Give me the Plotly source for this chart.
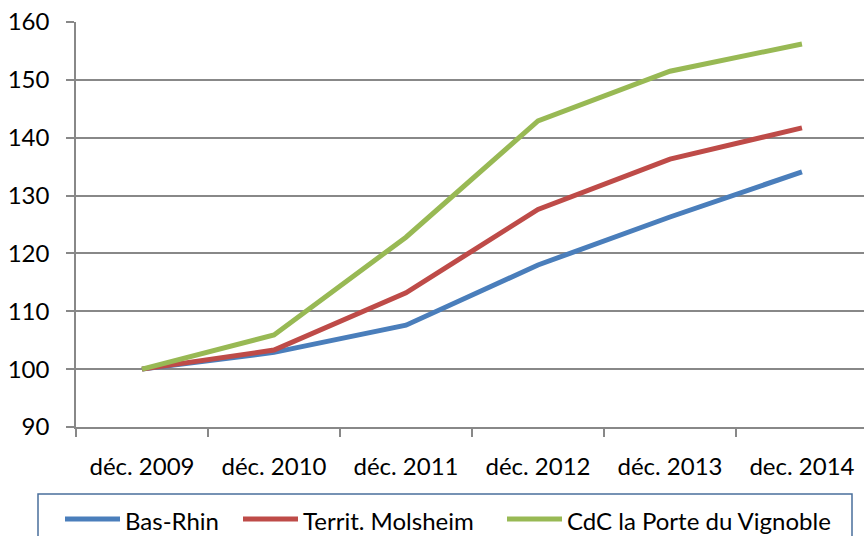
import plotly.graph_objects as go

categories = ["déc. 2009", "déc. 2010", "déc. 2011", "déc. 2012", "déc. 2013", "dec. 2014"]
bas_rhin = [100, 102.9, 107.6, 118.0, 126.3, 134.1]
territ_molsheim = [100, 103.3, 113.2, 127.6, 136.3, 141.7]
cdc_porte_vignoble = [100, 105.9, 122.8, 142.9, 151.5, 156.2]

series = [
    ("Bas-Rhin", bas_rhin, "#4a7ebb"),
    ("Territ. Molsheim", territ_molsheim, "#be4b48"),
    ("CdC la Porte du Vignoble", cdc_porte_vignoble, "#98b954"),
]

FONT = "Lato"
FS = 24
W, H = 864, 536
L, T, B = 76, 22, 109
pw = W - L
ph = H - T - B

def px_x(p):
    return (p - L) / pw

def px_y(p):
    return (H - B - p) / ph

fig = go.Figure()
for name, vals, col in series:
    fig.add_trace(go.Scatter(x=categories, y=vals, name=name, mode="lines",
                             line=dict(color=col, width=5), showlegend=False))

# manual legend (long line samples like the reference)
legend_starts = [65, 243, 507]
shapes = [dict(type="rect", xref="paper", yref="paper",
               x0=px_x(38), x1=px_x(852), y0=px_y(494), y1=px_y(560),
               line=dict(color="#4a6f9c", width=1.5), fillcolor="rgba(0,0,0,0)", layer="below")]
annotations = []
for (name, vals, col), xs in zip(series, legend_starts):
    shapes.append(dict(type="line", xref="paper", yref="paper",
                       x0=px_x(xs), x1=px_x(xs + 55), y0=px_y(519), y1=px_y(519),
                       line=dict(color=col, width=5)))
    annotations.append(dict(text=name, xref="paper", yref="paper", x=px_x(xs + 58), y=px_y(520),
                            xanchor="left", yanchor="middle", showarrow=False,
                            font=dict(family=FONT, size=FS, color="#000")))

fig.update_layout(
    width=W, height=H,
    margin=dict(l=L, r=0, t=T, b=B, autoexpand=False),
    paper_bgcolor="white", plot_bgcolor="white",
    font=dict(family=FONT, size=FS, color="#000"),
    showlegend=False,
    xaxis=dict(type="category", range=[-0.5, 5.47], showgrid=False,
               showline=True, linecolor="#888", linewidth=1.5,
               ticks="outside", tickson="boundaries", ticklen=8, tickcolor="#888", tickwidth=1.5,
               tickfont=dict(family=FONT, size=FS), ticklabelstandoff=17, fixedrange=True),
    yaxis=dict(range=[90, 160], dtick=10, showgrid=True, gridcolor="#888", gridwidth=1.5,
               showline=True, linecolor="#888", linewidth=1.5, zeroline=False,
               ticks="outside", ticklen=8, tickcolor="#888", tickwidth=1.5,
               tickfont=dict(family=FONT, size=FS), ticklabelstandoff=12, fixedrange=True),
    shapes=shapes,
    annotations=annotations,
)

fig.write_html("out.html", config={"displayModeBar": False},
               post_script="document.body.style.margin='0';document.body.style.padding='0';")
